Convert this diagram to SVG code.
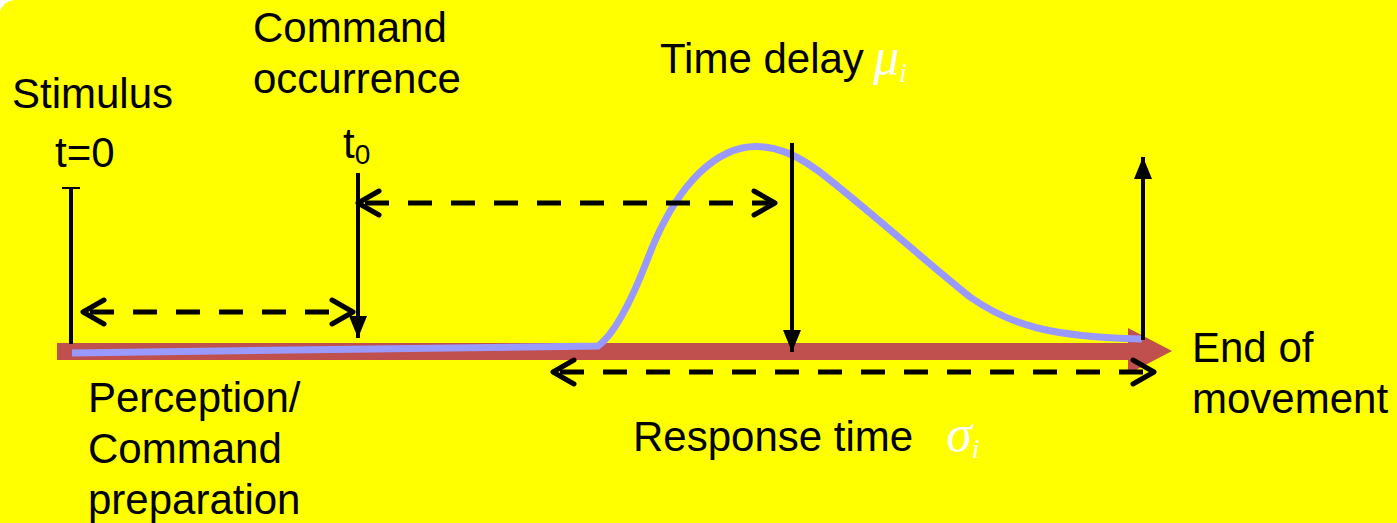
<svg xmlns="http://www.w3.org/2000/svg" width="1397" height="523" viewBox="0 0 1397 523">
<defs>
<style>
.t{font-family:"Liberation Sans",Arial,sans-serif;font-size:42px;fill:#000}
.g{font-family:"Liberation Serif","Times New Roman",serif;font-style:italic;fill:#fff}
.dash{stroke:#000;stroke-width:5;fill:none;stroke-dasharray:24 19}
.solid{stroke:#000;stroke-width:4;fill:none}
</style>
<marker id="chevE" markerUnits="userSpaceOnUse" markerWidth="40" markerHeight="40" viewBox="-30 -20 40 40" refX="0" refY="0" orient="auto">
<polyline points="-21,-12 0,0 -21,12" fill="none" stroke="#000" stroke-width="5" stroke-linecap="round" stroke-linejoin="round"/>
</marker>
<marker id="chevS" markerUnits="userSpaceOnUse" markerWidth="40" markerHeight="40" viewBox="-10 -20 40 40" refX="0" refY="0" orient="auto">
<polyline points="21,-12 0,0 21,12" fill="none" stroke="#000" stroke-width="5" stroke-linecap="round" stroke-linejoin="round"/>
</marker>
<marker id="tri" markerUnits="userSpaceOnUse" markerWidth="30" markerHeight="30" viewBox="-25 -15 30 30" refX="0" refY="0" orient="auto">
<polygon points="-22,-9 0,0 -22,9" fill="#000"/>
</marker>
</defs>
<path d="M14,0 H1397 V523 H0 V12 Q2,2 14,0 Z" fill="#FFFF00"/>
<g id="axis">
<polygon points="57,343 1128,343 1128,328 1172,351 1128,374 1128,360 57,360" fill="#C0504D"/>
</g>
<g id="curve">
<path d="M72,353 L598,346 C612,336 628,310 648,258 C668,205 700,158 742,148 C772,142 800,155 830,180 C880,220 930,265 970,297 C1010,325 1050,337 1142,339" fill="none" stroke="#9999FF" stroke-width="7"/>
</g>
<g id="connectors">
<line x1="71" y1="188" x2="71" y2="344" class="solid"/>
<line x1="62" y1="188" x2="80" y2="188" stroke="#000" stroke-width="2"/>
<line x1="358" y1="173" x2="358" y2="338" class="solid" marker-end="url(#tri)"/>
<line x1="792" y1="143" x2="792" y2="352" class="solid" marker-end="url(#tri)"/>
<line x1="1143" y1="340" x2="1143" y2="157" class="solid" marker-end="url(#tri)"/>
<line x1="83" y1="312" x2="353" y2="312" class="dash" stroke-dashoffset="36" marker-start="url(#chevS)" marker-end="url(#chevE)"/>
<line x1="358" y1="203" x2="775" y2="203" class="dash" stroke-dashoffset="36" marker-start="url(#chevS)" marker-end="url(#chevE)"/>
<line x1="553" y1="372" x2="1154" y2="372" class="dash" stroke-dashoffset="36" marker-start="url(#chevS)" marker-end="url(#chevE)"/>
</g>
<g id="stimulus"><text class="t" x="12" y="108">Stimulus</text><text class="t" x="55" y="167">t=0</text></g>
<g id="command"><text class="t" x="253" y="42">Command</text><text class="t" x="253" y="93">occurrence</text>
<text class="t" x="343" y="158">t<tspan font-size="28" dy="6">0</tspan></text></g>
<g id="delay"><text class="t" x="660" y="73">Time delay</text><text class="g" x="873" y="74" font-size="52">μ<tspan font-size="28" dy="8">i</tspan></text></g>
<g id="response"><text class="t" x="633" y="451">Response time</text><text class="g" x="946" y="451" font-size="52">σ<tspan font-size="28" dy="7">i</tspan></text></g>
<g id="perception"><text class="t" x="88" y="412">Perception/</text><text class="t" x="88" y="463">Command</text><text class="t" x="88" y="514">preparation</text></g>
<g id="end"><text class="t" x="1192" y="362">End of</text><text class="t" x="1192" y="413">movement</text></g>
</svg>
